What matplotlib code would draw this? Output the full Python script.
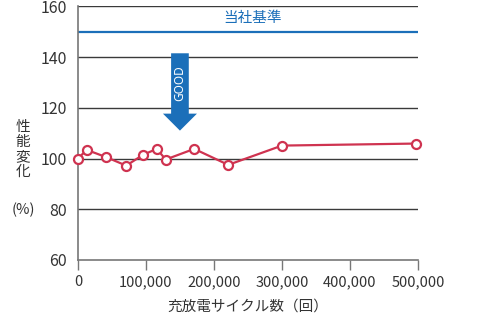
import matplotlib
matplotlib.use("Agg")
import matplotlib.pyplot as plt
from matplotlib.patches import Polygon

plt.rcParams['font.family'] = ['Noto Sans CJK JP', 'DejaVu Sans']

# Cycle counts and relative performance (%)
cycles = [0, 13000, 42000, 71000, 96000, 116000, 129000, 171000, 221000, 300000, 497000]
performance = [100.0, 103.4, 100.5, 97.2, 101.5, 103.8, 99.6, 103.8, 97.5, 105.1, 105.9]

x_ticks = [0, 100000, 200000, 300000, 400000, 500000]
x_tick_labels = ["0", "100,000", "200,000", "300,000", "400,000", "500,000"]
y_ticks = [60, 80, 100, 120, 140, 160]

standard_level = 150
standard_label = "当社基準"
arrow_x = 150000
arrow_top, arrow_head, arrow_tip = 141.5, 117.7, 111.0
shaft_half, head_half = 13000, 25000

red = "#cf3350"
blue = "#1b6fb9"

fig = plt.figure(figsize=(4.78, 3.35), dpi=100)
ax = fig.add_axes([0.163, 0.224, 0.7115, 0.757])

ax.set_xlim(0, 500000)
ax.set_ylim(60, 160)

# horizontal grid lines
for y in y_ticks[1:]:
    ax.axhline(y, color="#3a3a3a", lw=1.0, zorder=1)

# company standard line
ax.axhline(standard_level, color=blue, lw=1.6, zorder=2)
ax.text(257000, standard_level + 5.6, standard_label,
        color=blue, fontsize=10.5, ha="center", va="center", zorder=3)

# GOOD arrow
arrow_pts = [
    (arrow_x - shaft_half, arrow_top), (arrow_x + shaft_half, arrow_top),
    (arrow_x + shaft_half, arrow_head), (arrow_x + head_half, arrow_head),
    (arrow_x, arrow_tip), (arrow_x - head_half, arrow_head),
    (arrow_x - shaft_half, arrow_head),
]
ax.add_patch(Polygon(arrow_pts, closed=True, facecolor=blue, edgecolor="none", zorder=3))
ax.text(arrow_x, 129.7, "GOOD", color="white",
        fontsize=8.5, rotation=90, ha="center", va="center", zorder=4,
        family=["Noto Sans"])

# data series
ax.plot(cycles, performance, color=red, lw=1.6, marker="o", markersize=6.5,
        markerfacecolor="white", markeredgecolor=red, markeredgewidth=1.6,
        zorder=5, clip_on=False)

# axes styling
for side in ["top", "right"]:
    ax.spines[side].set_visible(False)
ax.spines["left"].set_color("#777777")
ax.spines["bottom"].set_color("#777777")
ax.spines["left"].set_linewidth(1.2)
ax.spines["bottom"].set_linewidth(1.2)

ax.set_xticks(x_ticks)
ax.set_xticklabels(x_tick_labels)
ax.set_yticks(y_ticks)
ax.tick_params(axis="x", direction="out", length=7, width=1.0, color="#777777",
               labelsize=10.5, labelcolor="#333333", pad=4)
ax.tick_params(axis="y", length=0, labelsize=11.5, labelcolor="#333333", pad=8)

# axis titles
fig.text(248 / 478, 1 - 307 / 335, "充放電サイクル数（回）", fontsize=10.5,
         color="#333333", ha="center", va="center")
for i, ch in enumerate("性能変化"):
    fig.text(23 / 478, 1 - (127 + 15 * i) / 335, ch, fontsize=10.5,
             color="#333333", ha="center", va="center")
fig.text(23 / 478, 1 - 210 / 335, "(%)", fontsize=10.5, color="#333333",
         ha="center", va="center")

fig.savefig("out.png", dpi=100)
